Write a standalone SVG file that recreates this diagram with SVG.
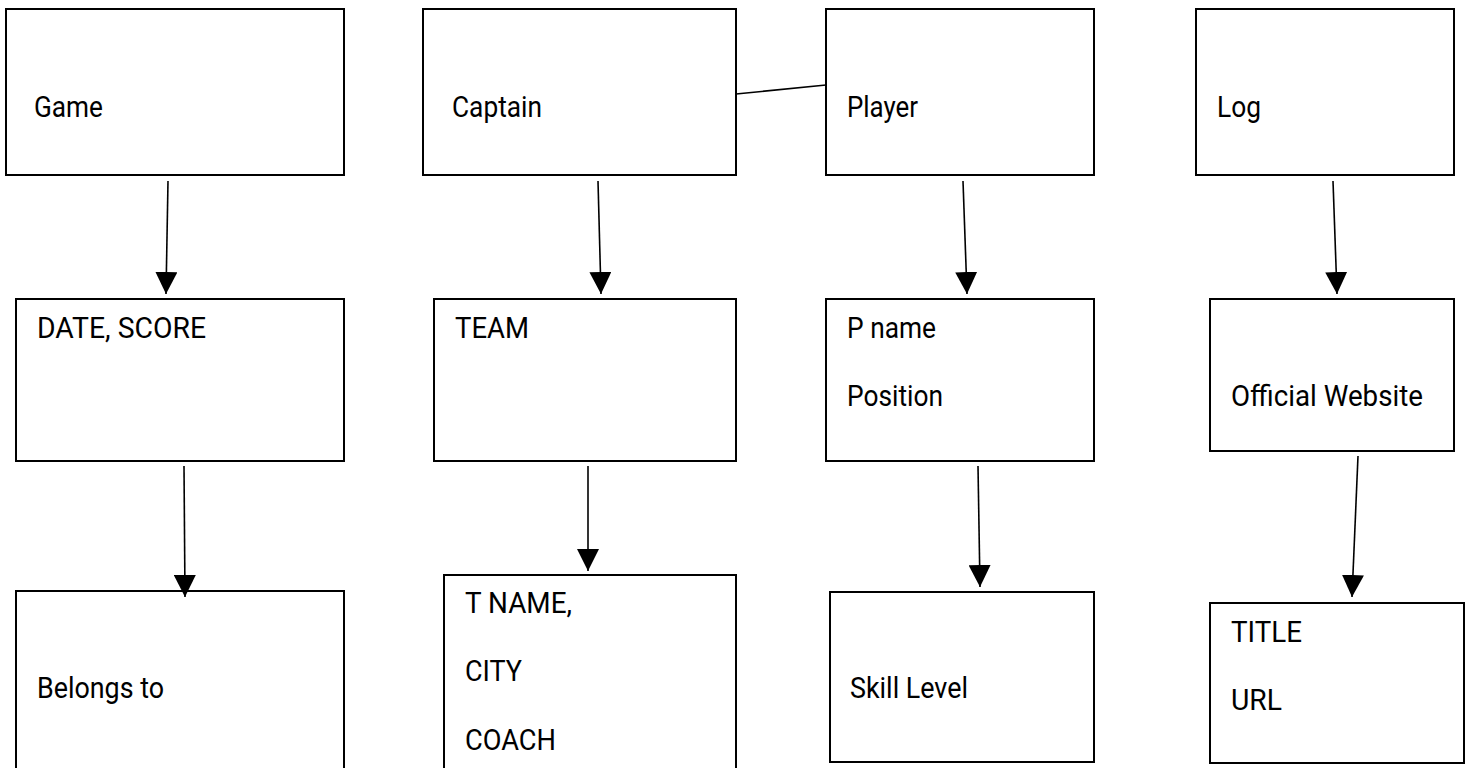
<svg xmlns="http://www.w3.org/2000/svg" width="1472" height="768" viewBox="0 0 1472 768">
<style>
.box{fill:#fff;stroke:#000;stroke-width:2}
.lbl{font-family:Roboto,"Liberation Sans",sans-serif;font-size:29px;fill:#000}
.con{stroke:#000;stroke-width:1.6;fill:none}
</style>
<defs>
<marker id="ah" viewBox="0 0 22 22" refX="22" refY="11" markerWidth="22" markerHeight="22" markerUnits="userSpaceOnUse" orient="auto">
<path d="M0,0 L22,11 L0,22 z" fill="#000"/>
</marker>
</defs>
<rect width="1472" height="768" fill="#fff"/>
<g id="game"><rect class="box" x="6" y="9" width="338" height="166"/><text class="lbl" x="34" y="117" textLength="69" lengthAdjust="spacingAndGlyphs">Game</text></g>
<g id="captain"><rect class="box" x="423" y="9" width="313" height="166"/><text class="lbl" x="452" y="117" textLength="90" lengthAdjust="spacingAndGlyphs">Captain</text></g>
<g id="player"><rect class="box" x="826" y="9" width="268" height="166"/><text class="lbl" x="847" y="117" textLength="71" lengthAdjust="spacingAndGlyphs">Player</text></g>
<g id="log"><rect class="box" x="1196" y="9" width="258" height="166"/><text class="lbl" x="1217" y="117" textLength="44" lengthAdjust="spacingAndGlyphs">Log</text></g>
<g id="date-score"><rect class="box" x="16" y="299" width="328" height="162"/><text class="lbl" x="37" y="338" textLength="169" lengthAdjust="spacingAndGlyphs">DATE, SCORE</text></g>
<g id="team"><rect class="box" x="434" y="299" width="302" height="162"/><text class="lbl" x="455" y="338" textLength="74" lengthAdjust="spacingAndGlyphs">TEAM</text></g>
<g id="pname"><rect class="box" x="826" y="299" width="268" height="162"/><text class="lbl" x="847" y="338" textLength="89" lengthAdjust="spacingAndGlyphs">P name</text><text class="lbl" x="847" y="406" textLength="96" lengthAdjust="spacingAndGlyphs">Position</text></g>
<g id="website"><rect class="box" x="1210" y="299" width="244" height="152"/><text class="lbl" x="1231" y="406" textLength="192" lengthAdjust="spacingAndGlyphs">Official Website</text></g>
<g id="belongs"><rect class="box" x="16" y="591" width="328" height="190"/><text class="lbl" x="37" y="698" textLength="127" lengthAdjust="spacingAndGlyphs">Belongs to</text></g>
<g id="tname"><rect class="box" x="444" y="575" width="292" height="206"/><text class="lbl" x="465" y="613" textLength="107" lengthAdjust="spacingAndGlyphs">T NAME,</text><text class="lbl" x="465" y="681" textLength="57" lengthAdjust="spacingAndGlyphs">CITY</text><text class="lbl" x="465" y="750" textLength="91" lengthAdjust="spacingAndGlyphs">COACH</text></g>
<g id="skill"><rect class="box" x="830" y="592" width="264" height="170"/><text class="lbl" x="850" y="698" textLength="118" lengthAdjust="spacingAndGlyphs">Skill Level</text></g>
<g id="title-url"><rect class="box" x="1210" y="603" width="254" height="160"/><text class="lbl" x="1231" y="642" textLength="71" lengthAdjust="spacingAndGlyphs">TITLE</text><text class="lbl" x="1231" y="710" textLength="51" lengthAdjust="spacingAndGlyphs">URL</text></g>
<g id="connectors">
<line class="con" x1="168" y1="181" x2="166" y2="294" marker-end="url(#ah)"/>
<line class="con" x1="598" y1="181" x2="601" y2="294" marker-end="url(#ah)"/>
<line class="con" x1="963" y1="181" x2="967" y2="294" marker-end="url(#ah)"/>
<line class="con" x1="1333" y1="181" x2="1337" y2="294" marker-end="url(#ah)"/>
<line class="con" x1="184" y1="466" x2="185" y2="597" marker-end="url(#ah)"/>
<line class="con" x1="588" y1="466" x2="588" y2="571" marker-end="url(#ah)"/>
<line class="con" x1="978" y1="466" x2="980" y2="587" marker-end="url(#ah)"/>
<line class="con" x1="1358" y1="456" x2="1352" y2="597" marker-end="url(#ah)"/>
<line class="con" x1="736" y1="94" x2="826" y2="85"/>
</g>
</svg>
